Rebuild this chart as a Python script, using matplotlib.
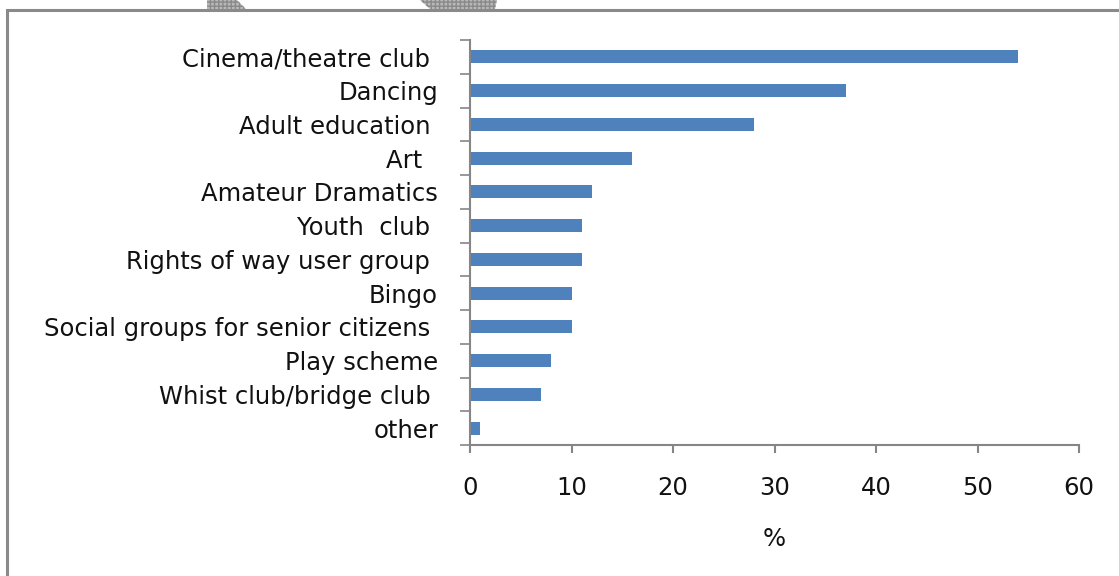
import matplotlib.pyplot as plt
from matplotlib.patches import Polygon, Rectangle
from matplotlib.ticker import FixedLocator

# Survey answers, listed top to bottom as in the chart
activities = ["Cinema/theatre club ", "Dancing", "Adult education ", "Art  ",
              "Amateur Dramatics", "Youth  club ", "Rights of way user group ",
              "Bingo", "Social groups for senior citizens ", "Play scheme",
              "Whist club/bridge club ", "other"]
percent = [54, 37, 28, 16, 12, 11, 11, 10, 10, 8, 7, 1]
xticks = [0, 10, 20, 30, 40, 50, 60]

W, H = 1119, 576
FONT = "DejaVu Sans"
FS = 17.5
fig = plt.figure(figsize=(W / 100, H / 100), dpi=100)
fig.patch.set_facecolor("white")

# outer frame of the pasted chart (runs off right and bottom edges)
fig.patches.append(Rectangle((7 / W, -0.1), 1.2, 1 - 10 / H + 0.1,
                             transform=fig.transFigure, fill=False,
                             edgecolor="#8a8a8a", linewidth=2.2))
# scan artefacts at the top
for pts in ([(207, 0), (237, 0), (246, 9), (207, 9)],
            [(420, 0), (497, 0), (495, 9), (430, 9)]):
    fig.patches.append(Polygon([(x / W, 1 - y / H) for x, y in pts],
                               closed=True, transform=fig.transFigure,
                               facecolor="#b8b8b8", edgecolor="#8a8a8a",
                               hatch="++++", linewidth=0))

ax = fig.add_axes([470 / W, 1 - 445 / H, (1079 - 470) / W, (445 - 40) / H])
n = len(activities)
ypos = list(range(n))[::-1]
ax.barh(ypos, percent, height=0.39, color="#4f81bd")

ax.set_xlim(0, 60)
ax.set_ylim(-0.5, n - 0.5)
ax.set_xticks(xticks)
ax.set_yticks(ypos)
ax.set_yticklabels(activities)
ax.yaxis.set_minor_locator(FixedLocator([i - 0.5 for i in range(n + 1)]))

for side in ("top", "right"):
    ax.spines[side].set_visible(False)
for side in ("left", "bottom"):
    ax.spines[side].set_color("#868686")
    ax.spines[side].set_linewidth(1.5)

ax.tick_params(axis="y", which="major", length=0, pad=23,
               labelsize=FS, labelcolor="#111111")
ax.tick_params(axis="y", which="minor", length=7, width=1.2, color="#868686")
ax.tick_params(axis="x", length=6, width=1.5, color="#868686", pad=16,
               labelsize=FS, labelcolor="#111111")
for lab in ax.get_xticklabels() + ax.get_yticklabels():
    lab.set_fontfamily(FONT)

ax.set_xlabel("%", fontsize=FS, fontfamily=FONT, color="#111111",
              labelpad=20)

fig.savefig("out.png", dpi=100)
